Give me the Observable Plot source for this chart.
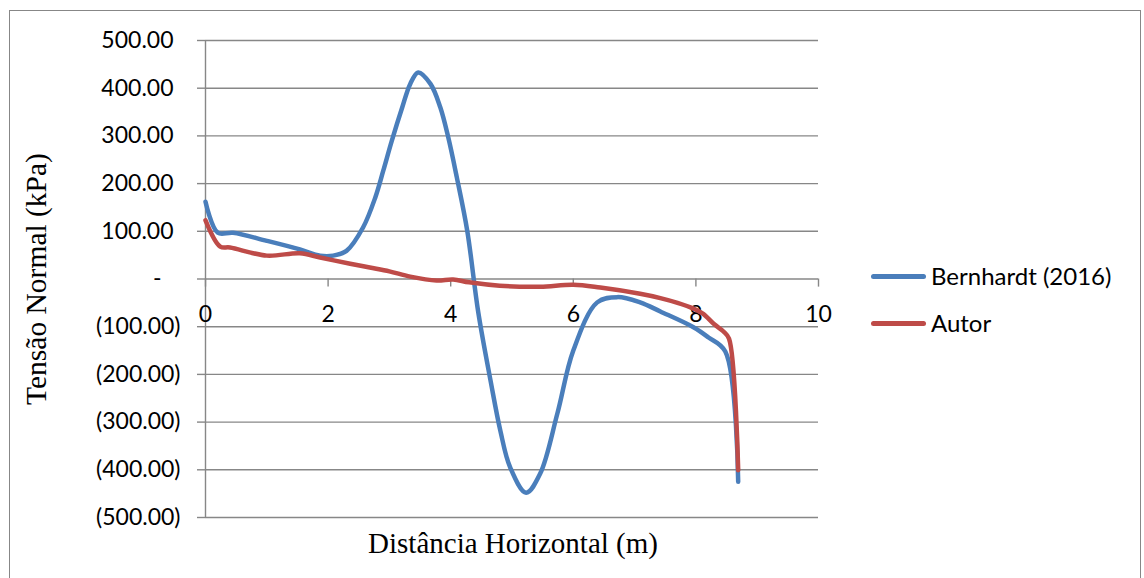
<!DOCTYPE html>
<html>
<head>
<meta charset="utf-8">
<script src="https://cdn.jsdelivr.net/npm/d3@7"></script>
<script src="https://cdn.jsdelivr.net/npm/@observablehq/plot@0.6"></script>
<style>
  html, body { margin: 0; padding: 0; background: #fff; overflow: hidden; }
  #wrap { position: relative; width: 1144px; height: 578px; }
  #frame { position: absolute; left: 9px; top: 10px; width: 1132px; height: 620px; border: 1px solid #878787; box-sizing: border-box; }
  #chart { position: absolute; left: 0; top: 0; }
  .ttl { position: absolute; font-family: "Liberation Serif", "Times New Roman", serif; color: #000; white-space: nowrap; line-height: 1; }
  .leg-line { position: absolute; width: 55px; height: 5px; border-radius: 3px; }
  .leg-text { position: absolute; font-family: Lato, "Open Sans", sans-serif; font-size: 24px; color: #000; line-height: 1; transform: translateY(-50%); white-space: nowrap; }
</style>
</head>
<body>
<div id="wrap">
  <div id="frame"></div>
  <div id="chart"></div>
</div>
<script>
// Data
const seriesNames = ["Bernhardt (2016)", "Autor"];
const seriesColors = ["#4A7EBB", "#BE4B48"];

const bernhardtX = [0, 0.2, 0.45, 1.0, 1.54, 1.87, 2.08, 2.3, 2.57, 2.77, 2.9, 3.04, 3.21, 3.34, 3.47, 3.67, 3.83, 3.96, 4.1, 4.27, 4.45, 4.65, 4.81, 4.97, 5.23, 5.46, 5.74, 6.0, 6.39, 6.72, 7.09, 7.42, 7.96, 8.2, 8.48, 8.69];
const bernhardtY = [162, 97, 97, 80, 62, 49, 49, 59, 108, 171, 227, 290, 360, 409, 433, 409, 360, 297, 213, 101, -70, -213, -318, -395, -448, -408, -282, -150, -49, -38, -49, -68, -101, -122, -152, -425];

const autorX = [0, 0.24, 0.4, 1.0, 1.54, 1.87, 2.36, 2.68, 3.0, 3.34, 3.77, 4.04, 4.3, 4.8, 5.46, 6.0, 6.44, 7.09, 7.42, 7.7, 7.96, 8.12, 8.3, 8.45, 8.54, 8.69];
const autorY = [123, 68, 66, 49, 54, 45, 32, 24, 16, 5, -3, -1, -7, -14, -16, -12, -18, -31, -40, -50, -62, -73, -95, -110, -125, -401];

const xTicks = [0, 2, 4, 6, 8, 10];
const yTicks = [-500, -400, -300, -200, -100, 0, 100, 200, 300, 400, 500];

const xTitle = "Distância Horizontal (m)";
const yTitle = "Tensão Normal (kPa)";

// Build tables
const bern = bernhardtX.map((x, i) => ({x, y: bernhardtY[i]}));
const aut = autorX.map((x, i) => ({x, y: autorY[i]}));

const fmtPos = v => d3.format(".2f")(v);
const fmtNeg = v => "(" + d3.format(".2f")(-v) + ")";

const W = 1144, H = 578;
const grid = "#878787";
const tickFont = "Lato, 'Open Sans', sans-serif";
const fs = 23;

const plot = Plot.plot({
  width: W,
  height: H,
  marginLeft: 205,
  marginRight: 326,
  marginTop: 40,
  marginBottom: 61,
  style: { background: "transparent", fontFamily: tickFont, fontSize: fs + "px", color: "#000", overflow: "visible" },
  x: { domain: [0, 10], axis: null },
  y: { domain: [-500, 500], axis: null },
  marks: [
    Plot.gridY(yTicks, { stroke: grid, strokeOpacity: 1, strokeWidth: 1.4 }),
    Plot.axisY(yTicks, { tickSize: 8, stroke: grid, strokeWidth: 1.4, text: null, label: null }),
    Plot.axisY(yTicks.filter(v => v < 0), { tickSize: 8, tickPadding: 17, tickFormat: fmtNeg, stroke: null, fill: "#000", fontSize: fs, label: null }),
    Plot.axisY(yTicks.filter(v => v > 0), { tickSize: 8, tickPadding: 24, tickFormat: fmtPos, stroke: null, fill: "#000", fontSize: fs, label: null }),
    Plot.axisY([0], { tickSize: 8, tickPadding: 36, tickFormat: () => "-", stroke: null, fill: "#000", fontSize: fs, label: null }),
    Plot.ruleX([0], { stroke: grid, strokeWidth: 1.4 }),
    Plot.ruleX(xTicks, { x: d => d, y1: 0, y2: -17, stroke: grid, strokeWidth: 1.4 }),
    Plot.text(xTicks, { x: d => d, y: 0, dy: 36, text: d => String(d), fill: "#000", fontSize: fs, fontFamily: tickFont }),
    Plot.line(bern, { x: "x", y: "y", stroke: seriesColors[0], strokeWidth: 4.5, curve: "catmull-rom", strokeLinejoin: "round", strokeLinecap: "round" }),
    Plot.line(aut, { x: "x", y: "y", stroke: seriesColors[1], strokeWidth: 4.5, curve: "catmull-rom", strokeLinejoin: "round", strokeLinecap: "round" })
  ]
});
document.getElementById("chart").appendChild(plot);

const wrap = document.getElementById("wrap");
function addDiv(cls, text, styles) {
  const d = document.createElement("div");
  d.className = cls;
  if (text) d.textContent = text;
  Object.assign(d.style, styles);
  wrap.appendChild(d);
  return d;
}
addDiv("ttl", xTitle, { left: "513px", top: "543px", fontSize: "29px", transform: "translate(-50%, -50%)" });
addDiv("ttl", yTitle, { left: "37px", top: "279px", fontSize: "29.5px", transform: "translate(-50%, -50%) rotate(-90deg)" });

const legY = [276, 323];
seriesNames.forEach((name, i) => {
  addDiv("leg-line", null, { left: "871px", top: (legY[i] - 2.5) + "px", background: seriesColors[i] });
  addDiv("leg-text", name, { left: "931px", top: legY[i] + "px" });
});
</script>
</body>
</html>
